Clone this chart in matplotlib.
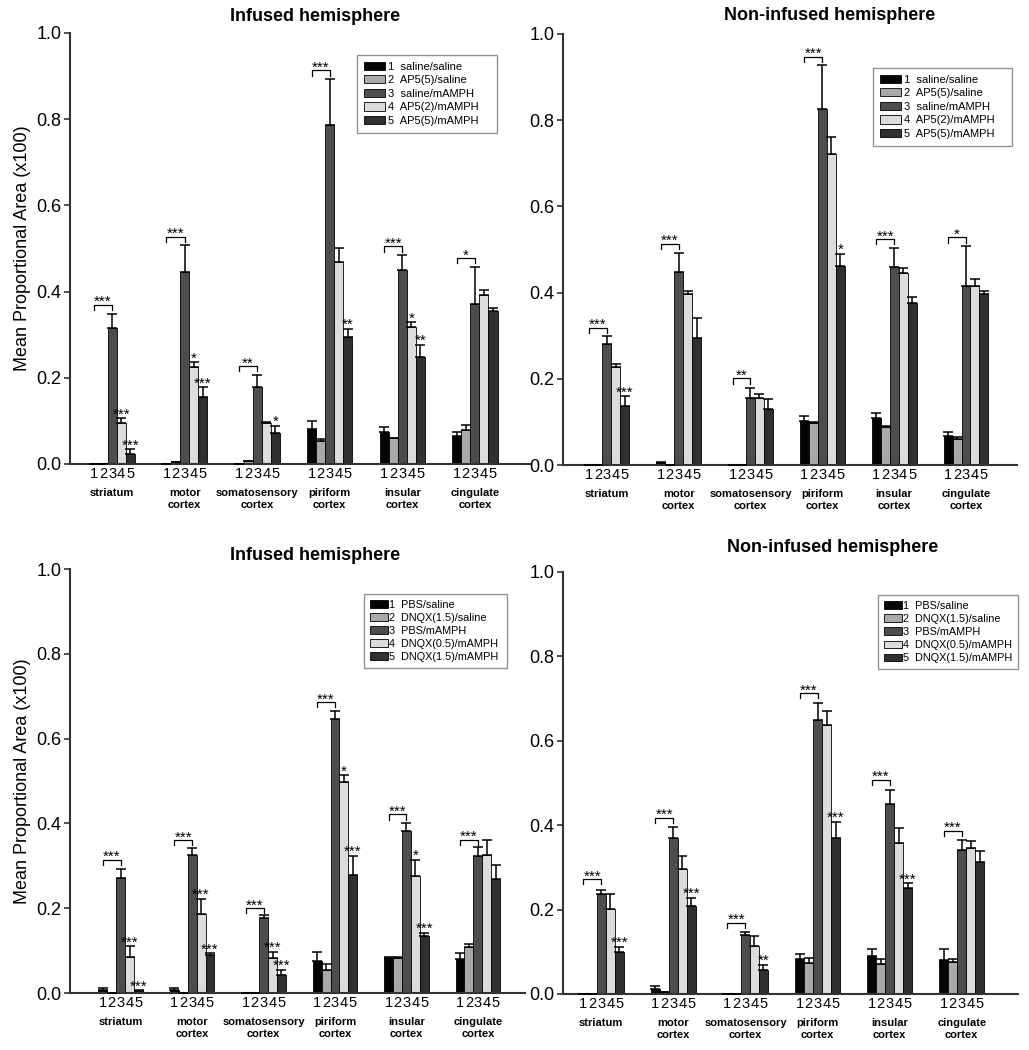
import matplotlib
matplotlib.use("Agg")
import matplotlib.pyplot as plt
import numpy as np

plt.rcParams['font.family'] = ['Liberation Sans', 'DejaVu Sans']

# ---------------- data ----------------
regions = ["striatum", "motor\ncortex", "somatosensory\ncortex",
           "piriform\ncortex", "insular\ncortex", "cingulate\ncortex"]
bar_numbers = ["1", "2", "3", "4", "5"]

ap5_groups = ["1  saline/saline", "2  AP5(5)/saline", "3  saline/mAMPH",
              "4  AP5(2)/mAMPH", "5  AP5(5)/mAMPH"]
dnqx_groups = ["1  PBS/saline", "2  DNQX(1.5)/saline", "3  PBS/mAMPH",
               "4  DNQX(0.5)/mAMPH", "5  DNQX(1.5)/mAMPH"]

titles = ["Infused hemisphere", "Non-infused hemisphere",
          "Infused hemisphere", "Non-infused hemisphere"]

# AP5 – infused hemisphere (rows: regions, cols: groups 1-5)
ap5_inf_mean = [[0.000, 0.001, 0.316, 0.095, 0.024],
                [0.001, 0.005, 0.445, 0.224, 0.156],
                [0.000, 0.008, 0.178, 0.095, 0.073],
                [0.081, 0.053, 0.786, 0.469, 0.294],
                [0.074, 0.060, 0.449, 0.317, 0.249],
                [0.064, 0.080, 0.371, 0.391, 0.354]]
ap5_inf_sem = [[0.000, 0.000, 0.032, 0.012, 0.011],
               [0.000, 0.000, 0.062, 0.013, 0.023],
               [0.000, 0.000, 0.028, 0.002, 0.016],
               [0.019, 0.005, 0.108, 0.031, 0.020],
               [0.013, 0.001, 0.037, 0.012, 0.028],
               [0.011, 0.010, 0.087, 0.012, 0.009]]
ap5_inf_bracket = [0.370, 0.527, 0.227, 0.913, 0.505, 0.478]
ap5_inf_bracket_sig = ["***", "***", "**", "***", "***", "*"]
ap5_inf_bar_sig = [["", "", "", "***", "***"],
                   ["", "", "", "*", "***"],
                   ["", "", "", "", "*"],
                   ["", "", "", "", "**"],
                   ["", "", "", "*", "**"],
                   ["", "", "", "", ""]]

# AP5 – non-infused hemisphere
ap5_non_mean = [[0.000, 0.000, 0.280, 0.227, 0.137],
                [0.004, 0.001, 0.447, 0.397, 0.294],
                [0.000, 0.001, 0.155, 0.155, 0.129],
                [0.103, 0.097, 0.825, 0.721, 0.461],
                [0.108, 0.089, 0.460, 0.446, 0.377],
                [0.068, 0.060, 0.415, 0.415, 0.397]]
ap5_non_sem = [[0.000, 0.000, 0.020, 0.007, 0.022],
               [0.002, 0.000, 0.044, 0.007, 0.046],
               [0.000, 0.000, 0.024, 0.010, 0.024],
               [0.011, 0.002, 0.102, 0.039, 0.029],
               [0.013, 0.001, 0.043, 0.010, 0.012],
               [0.009, 0.005, 0.092, 0.017, 0.006]]
ap5_non_bracket = [0.319, 0.513, 0.201, 0.947, 0.524, 0.528]
ap5_non_bracket_sig = ["***", "***", "**", "***", "***", "*"]
ap5_non_bar_sig = [["", "", "", "", "***"],
                   ["", "", "", "", ""],
                   ["", "", "", "", ""],
                   ["", "", "", "", "*"],
                   ["", "", "", "", ""],
                   ["", "", "", "", ""]]

# DNQX – infused hemisphere
dnqx_inf_mean = [[0.006, 0.000, 0.271, 0.085, 0.005],
                 [0.008, 0.001, 0.325, 0.187, 0.089],
                 [0.000, 0.000, 0.176, 0.082, 0.043],
                 [0.076, 0.055, 0.646, 0.497, 0.278],
                 [0.082, 0.082, 0.381, 0.275, 0.134],
                 [0.080, 0.108, 0.322, 0.325, 0.269]]
dnqx_inf_sem = [[0.006, 0.000, 0.021, 0.025, 0.001],
                [0.003, 0.000, 0.017, 0.035, 0.005],
                [0.000, 0.000, 0.009, 0.015, 0.012],
                [0.021, 0.013, 0.020, 0.016, 0.046],
                [0.004, 0.004, 0.020, 0.039, 0.008],
                [0.014, 0.008, 0.022, 0.037, 0.034]]
dnqx_inf_bracket = [0.314, 0.360, 0.200, 0.686, 0.421, 0.362]
dnqx_inf_bracket_sig = ["***", "***", "***", "***", "***", "***"]
dnqx_inf_bar_sig = [["", "", "", "***", "***"],
                    ["", "", "", "***", "***"],
                    ["", "", "", "***", "***"],
                    ["", "", "", "*", "***"],
                    ["", "", "", "*", "***"],
                    ["", "", "", "", ""]]

# DNQX – non-infused hemisphere
dnqx_non_mean = [[0.000, 0.000, 0.237, 0.202, 0.099],
                 [0.013, 0.005, 0.369, 0.297, 0.209],
                 [0.000, 0.000, 0.139, 0.113, 0.058],
                 [0.082, 0.073, 0.649, 0.638, 0.369],
                 [0.089, 0.072, 0.451, 0.358, 0.251],
                 [0.081, 0.077, 0.341, 0.347, 0.313]]
dnqx_non_sem = [[0.000, 0.000, 0.009, 0.034, 0.013],
                [0.006, 0.000, 0.026, 0.030, 0.019],
                [0.000, 0.000, 0.007, 0.024, 0.011],
                [0.013, 0.012, 0.041, 0.033, 0.039],
                [0.018, 0.012, 0.032, 0.035, 0.011],
                [0.025, 0.007, 0.025, 0.016, 0.026]]
dnqx_non_bracket = [0.272, 0.418, 0.169, 0.713, 0.507, 0.387]
dnqx_non_bracket_sig = ["***", "***", "***", "***", "***", "***"]
dnqx_non_bar_sig = [["", "", "", "", "***"],
                    ["", "", "", "", "***"],
                    ["", "", "", "", "**"],
                    ["", "", "", "", "***"],
                    ["", "", "", "", "***"],
                    ["", "", "", "", ""]]

bar_colors = ["#050505", "#a9a9a9", "#4d4d4d", "#dcdcdc", "#303030"]

# ---------------- drawing ----------------
W, H = 1029, 1050
fig = plt.figure(figsize=(W / 100, H / 100), dpi=100)


def px_axes(l, t, r, b):
    return fig.add_axes([l / W, 1 - b / H, (r - l) / W, (b - t) / H])


BW = 0.125


def draw_panel(ax, means, sems, brk, brk_sig, bar_sig, groups, title,
               xlim, title_pos, leg_box, ylabel, leg_kw):
    means = np.array(means)
    sems = np.array(sems)
    nreg = means.shape[0]
    xt, xl = [], []
    handles = []
    for j in range(5):
        xs = np.arange(nreg) + (j - 2) * BW
        h = ax.bar(xs, means[:, j], width=BW, color=bar_colors[j],
                   edgecolor="black", linewidth=0.6, label=groups[j], zorder=2)
        handles.append(h)
        ax.errorbar(xs, means[:, j], yerr=[np.zeros(nreg), sems[:, j]],
                    fmt="none", ecolor="black", elinewidth=1.1,
                    capsize=3.5, capthick=1.1, zorder=3)
        for i in range(nreg):
            xt.append(xs[i])
            xl.append(bar_numbers[j])
            if bar_sig[i][j]:
                ax.text(xs[i], means[i, j] + sems[i, j] - 0.008, bar_sig[i][j],
                        ha="center", va="bottom", fontsize=11, zorder=4)
    for i in range(nreg):
        x1 = i - 2 * BW
        x3 = i
        y = brk[i]
        ax.plot([x1, x1, x3, x3], [y - 0.012, y, y, y - 0.012],
                color="black", lw=0.9, zorder=4)
        ax.text((x1 + x3) / 2, y - 0.010, brk_sig[i], ha="center",
                va="bottom", fontsize=11, zorder=4)
        ax.annotate(regions[i], xy=(i, 0), xycoords=("data", "axes fraction"),
                    xytext=(0, -17), textcoords="offset points",
                    ha="center", va="top", fontsize=8, fontweight="bold",
                    linespacing=1.25)
    ax.set_xticks(xt)
    ax.set_xticklabels(xl, fontsize=10.5)
    ax.tick_params(axis="x", length=0, pad=2)
    ax.set_xlim(*xlim)
    ax.set_ylim(0, 1.0)
    ax.set_yticks([0, 0.2, 0.4, 0.6, 0.8, 1.0])
    ax.set_yticklabels(["0.0", "0.2", "0.4", "0.6", "0.8", "1.0"], fontsize=13)
    ax.tick_params(axis="y", length=4, width=1.2, pad=2, color="#333333")
    for s in ("top", "right"):
        ax.spines[s].set_visible(False)
    for s in ("left", "bottom"):
        ax.spines[s].set_linewidth(1.5)
        ax.spines[s].set_color("#333333")
    ax.text(title_pos[0], title_pos[1], title, transform=ax.transAxes,
            ha="center", va="center", fontsize=13, fontweight="bold")
    if ylabel:
        ax.set_ylabel("Mean Proportional Area (x100)", fontsize=13, labelpad=4)
    x0, top, w = leg_box
    leg = ax.legend(handles=handles, loc="upper left",
                    bbox_to_anchor=(x0, top - 0.3, w, 0.3), mode="expand",
                    frameon=True, fancybox=False, handleheight=0.75,
                    borderaxespad=0, **leg_kw)
    leg.get_frame().set_edgecolor("#777777")
    leg.get_frame().set_linewidth(1.0)


ap5_leg = dict(fontsize=8.0, handlelength=1.9, handletextpad=0.3,
               borderpad=0.6, labelspacing=0.32)
dnqx_leg = dict(fontsize=7.8, handlelength=1.7, handletextpad=0.05,
                borderpad=0.55, labelspacing=0.28)

ax1 = px_axes(70, 33, 530, 464)
draw_panel(ax1, ap5_inf_mean, ap5_inf_sem, ap5_inf_bracket, ap5_inf_bracket_sig,
           ap5_inf_bar_sig, ap5_groups, titles[0], (-0.58, 5.76),
           (0.533, 1.039), (0.624, 0.949, 0.304), True, ap5_leg)

ax2 = px_axes(563, 34, 1017, 465)
draw_panel(ax2, ap5_non_mean, ap5_non_sem, ap5_non_bracket, ap5_non_bracket_sig,
           ap5_non_bar_sig, ap5_groups, titles[1], (-0.61, 5.71),
           (0.588, 1.042), (0.683, 0.921, 0.306), False, ap5_leg)

ax3 = px_axes(70, 569, 525, 993)
draw_panel(ax3, dnqx_inf_mean, dnqx_inf_sem, dnqx_inf_bracket, dnqx_inf_bracket_sig,
           dnqx_inf_bar_sig, dnqx_groups, titles[2], (-0.71, 5.66),
           (0.538, 1.033), (0.646, 0.941, 0.314), True, dnqx_leg)

ax4 = px_axes(563, 572, 1018, 994)
draw_panel(ax4, dnqx_non_mean, dnqx_non_sem, dnqx_non_bracket, dnqx_non_bracket_sig,
           dnqx_non_bar_sig, dnqx_groups, titles[3], (-0.53, 5.78),
           (0.593, 1.059), (0.692, 0.945, 0.308), False, dnqx_leg)

fig.savefig("out.png", dpi=100, facecolor="white")
